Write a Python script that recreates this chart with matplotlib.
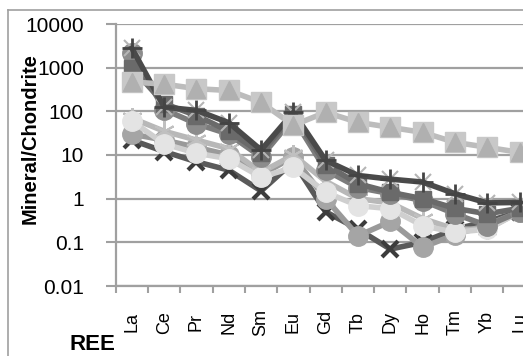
import numpy as np
import matplotlib
matplotlib.use("Agg")
import matplotlib.pyplot as plt
from matplotlib.lines import Line2D

plt.rcParams['font.family'] = ['Liberation Sans', 'DejaVu Sans']

# REE normalised to chondrite
ree = ["La", "Ce", "Pr", "Nd", "Sm", "Eu", "Gd", "Tb", "Dy", "Ho", "Tm", "Yb", "Lu"]

dark_x   = [22, 12, 7, 4.5, 1.5, 7, 0.5, 0.2, 0.07, 0.1, 0.2, 0.3, 0.5]
mid_low  = [30, 22, 15, 10, 3.5, 9, 1.0, 0.14, 0.3, 0.077, 0.15, 0.25, 0.5]
light_st = [70, 35, 22, 14, 4, 10, 2.5, 1.0, 0.8, 0.35, 0.2, 0.2, 0.5]
white_ci = [60, 18, 11, 8.2, 3.1, 5.2, 1.4, 0.69, 0.59, 0.24, 0.17, 0.2, 0.5]
mid_ci   = [2200, 110, 52, 30, 9, 70, 4.5, 1.8, 1.3, 0.9, 0.45, 0.24, 0.5]
dark_sq  = [1000, 150, 80, 35, 11, 85, 6, 2.2, 1.4, 1.0, 0.6, 0.45, 0.6]
dark_pl  = [2800, 125, 105, 55, 13, 95, 7.5, 3.4, 2.8, 2.4, 1.3, 0.8, 0.82]
tri      = [470, 420, 330, 300, 160, 48, 95, 56, 43, 33, 19.5, 15, 11.5]

x = np.arange(len(ree))

fig = plt.figure(figsize=(5.23, 3.56), dpi=100)
# plot area runs past the right edge of the picture (cropped, like the original)
ax = fig.add_axes([115.7/523, 1-286/356, 420/523, 262/356])

lw = 4.0
# lower group
ax.plot(x, dark_x, color="#5a5a5a", lw=lw, marker="x", ms=12, mew=3, mec="#3c3c3c", zorder=3)
ax.plot(x, mid_low, color="#9a9a9a", lw=lw, marker="o", ms=14, mfc="#a5a5a5", mec="#a5a5a5", zorder=3)
ax.plot(x, light_st, color="#b8b8b8", lw=lw, marker=(6, 2, 0), ms=15, mew=1.5, mec="#c0c0c0", zorder=3)
ax.plot(x, white_ci, color="#cfcfcf", lw=lw, marker="o", ms=14, mfc="#e4e4e4", mec="#e4e4e4", zorder=4)
# upper group
ax.plot(x, mid_ci, color="#7c7c7c", lw=lw, marker="o", ms=14, mfc="#8c8c8c", mec="#8c8c8c", zorder=5)
ax.plot(x, dark_sq, color="#6a6a6a", lw=lw, marker="s", ms=11, mfc="#6a6a6a", mec="#6a6a6a", zorder=5)
ax.plot(x, dark_pl, color="#4a4a4a", lw=lw, marker="+", ms=15, mew=2, mec="#444444", zorder=6)
ax.plot(x, dark_pl, ls="none", marker="x", ms=12, mew=1.5, mec="#b5b5b5", zorder=5)
# triangles sitting on light squares
ax.plot(x, tri, color="#bcbcbc", lw=lw, marker="s", ms=15, mfc="#c8c8c8", mec="#c8c8c8", zorder=7)
ax.plot(x, tri, ls="none", marker="^", ms=13, mfc="#b0b0b0", mec="#b0b0b0", zorder=8)

ax.set_yscale("log")
ax.set_ylim(0.01, 10000)
ax.set_xlim(-0.5, 12.5)
ax.set_yticks([0.01, 0.1, 1, 10, 100, 1000, 10000])
ax.set_yticklabels(["0.01", "0.1", "1", "10", "100", "1000", "10000"])
ax.minorticks_off()
ax.yaxis.grid(True, color="#a0a0a0", lw=1.6)
ax.set_axisbelow(True)

ax.set_xticks(x)
ax.set_xticklabels(ree, rotation=90, va="center", fontsize=13)
ax.set_xticks(np.arange(-0.5, 13, 1), minor=True)
ax.tick_params(axis="x", which="major", length=0, pad=26)
ax.tick_params(axis="x", which="minor", length=5, width=1.5, color="#a0a0a0")
ax.tick_params(axis="y", which="major", length=7, width=1.5, color="#a0a0a0", labelsize=15, pad=16)

for s in ["top", "right"]:
    ax.spines[s].set_visible(False)
for s in ["left", "bottom"]:
    ax.spines[s].set_color("#a0a0a0")
    ax.spines[s].set_linewidth(1.6)

fig.text(30/523, 1-139/356, "Mineral/Chondrite", rotation=90, ha="center", va="center",
         fontsize=14.5, fontweight="bold")
fig.text(92/523, 1-345/356, "REE", ha="center", va="center", fontsize=16, fontweight="bold")

# outer frame of the chart (only top and left visible in the crop)
fig.add_artist(Line2D([8/523, 1], [1-10/356, 1-10/356], color="#a0a0a0", lw=1.2))
fig.add_artist(Line2D([8/523, 8/523], [0, 1-10/356], color="#a0a0a0", lw=1.2))

fig.savefig("out.png", dpi=100)
